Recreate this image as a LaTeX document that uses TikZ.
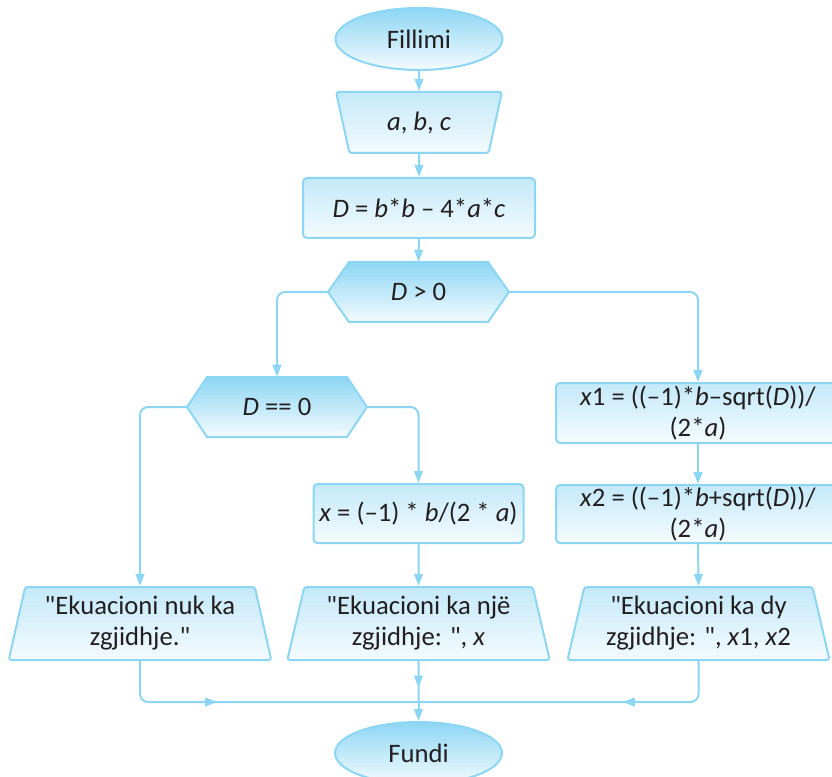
\documentclass[tikz,border=0pt]{standalone}
\usepackage{fontspec}
\setmainfont{Carlito}[Ligatures=TeXOff]
\usetikzlibrary{shapes.geometric,arrows.meta,calc,decorations.markings}
\definecolor{lineC}{RGB}{140,214,244}
\definecolor{darkF}{RGB}{141,214,244}
\definecolor{midF}{RGB}{196,233,249}
\definecolor{lightF}{RGB}{244,251,254}
\definecolor{txt}{RGB}{35,31,32}
\begin{document}
\begin{tikzpicture}[x=0.75pt,y=-0.75pt,
  every node/.style={font=\fontsize{20}{23.25}\selectfont, text=txt, inner sep=0pt, align=center},
  conn/.style={draw=lineC, line width=1.5pt, rounded corners=6pt},
  arr/.style={conn, -{Triangle[length=9pt,width=6.5pt]}},
  midarr/.style={postaction={decorate}, decoration={markings, mark=at position #1 with {\arrow[lineC]{Triangle[length=9pt,width=6.5pt]}}}},
  term/.style={ellipse, draw=lineC, line width=1.5pt, top color=darkF, bottom color=lightF, minimum width=125.25pt, minimum height=46.5pt},
  procbox/.style={rectangle, rounded corners=3pt, draw=lineC, line width=1.5pt, top color=midF, bottom color=lightF},
  inbox/.style={trapezium, trapezium stretches=true, trapezium left angle=105.6, trapezium right angle=105.6, rounded corners=2pt, draw=lineC, line width=1.5pt, top color=midF, bottom color=lightF},
  outbox/.style={trapezium, trapezium stretches=true, trapezium left angle=75.8, trapezium right angle=75.8, rounded corners=2pt, draw=lineC, line width=1.5pt, top color=midF, bottom color=lightF, minimum width=197pt, minimum height=54.75pt},
  hexfill/.style={draw=lineC, line width=1.5pt, top color=darkF, bottom color=lightF},
  hexnode/.style={rectangle, minimum height=45pt}
]
\useasboundingbox (0,0) rectangle (832,777);

% hexagons (shapes drawn directly)
\path[hexfill] (328,292) -- (349,262) -- (488,262) -- (509,292) -- (488,322) -- (349,322) -- cycle;
\path[hexfill] (187,407) -- (207,377) -- (347,377) -- (367,407) -- (347,437) -- (207,437) -- cycle;

\node[term] (fil) at (419,39) {Fillimi};
\node[inbox, minimum width=124.5pt, minimum height=45.75pt] (abc) at (419,122.5) {\textit{a}, \textit{b}, \textit{c}};
\node[procbox, minimum width=174pt, minimum height=45pt] (dd) at (419,208) {\textit{D} = \textit{b}*\textit{b} – 4*\textit{a}*\textit{c}};
\node[hexnode, minimum width=135.75pt] (d0) at (418.5,292) {\textit{D} > 0};
\node[hexnode, minimum width=135pt] (d00) at (277,407) {\textit{D} == 0};
\node[procbox, minimum width=213pt, minimum height=45pt] (x1) at (698,413) {\textit{x}1 = ((–1)*\textit{b}–sqrt(\textit{D}))/\\(2*\textit{a})};
\node[procbox, minimum width=213pt, minimum height=43.5pt] (x2) at (698,514) {\textit{x}2 = ((–1)*\textit{b}+sqrt(\textit{D}))/\\(2*\textit{a})};
\node[procbox, minimum width=157.5pt, minimum height=44.25pt] (xr) at (418.5,513.5) {\textit{x} = (–1) * \textit{b}/(2 * \textit{a})};
\node[outbox] (o1) at (140,623.5) {"Ekuacioni nuk ka\\zgjidhje."};
\node[outbox] (o2) at (418.5,623.5) {"Ekuacioni ka një\\zgjidhje: ", \textit{x}};
\node[outbox] (o3) at (698.5,623.5) {"Ekuacioni ka dy\\zgjidhje: ", \textit{x}1, \textit{x}2};
\node[term] (fun) at (418.5,753) {Fundi};
\coordinate (j) at (418.5,702);

\draw[arr] (fil.south) -- (abc.north);
\draw[arr] (abc.south) -- (dd.north);
\draw[arr] (dd.south) -- (d0.north);
\draw[arr] (d0.west) -| (d00.north);
\draw[arr] (d0.east) -| (x1.north);
\draw[arr] (x1.south) -- (x2.north);
\draw[arr] (x2.south) -- (o3.north);
\draw[arr] (d00.west) -| (o1.north);
\draw[arr] (d00.east) -| (xr.north);
\draw[arr] (xr.south) -- (o2.north);
\draw[conn, midarr=86pt] (o1.south) |- (j);
\draw[conn, midarr=85pt] (o3.south) |- (j);
\draw[conn, midarr=20pt] (o2.south) -- (j);
\draw[arr] (j) -- (fun.north);
\end{tikzpicture}
\end{document}
